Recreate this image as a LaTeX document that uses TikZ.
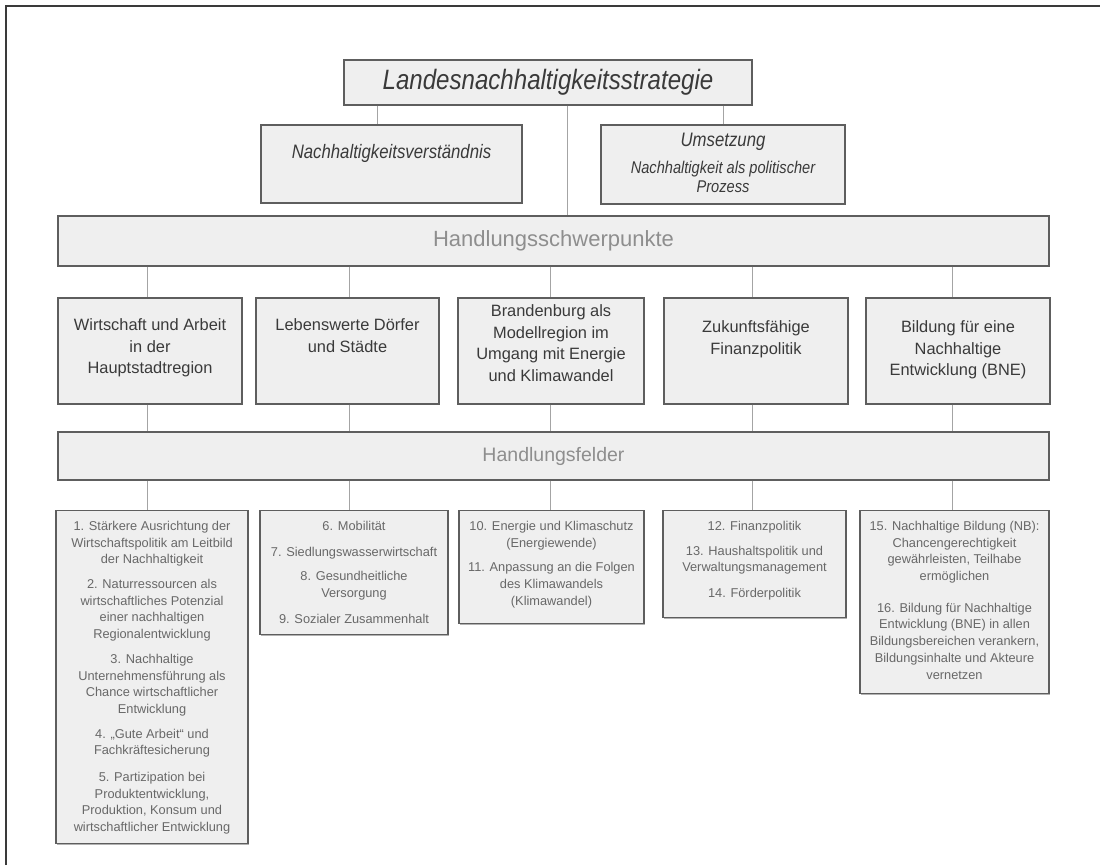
\documentclass[tikz,border=0pt]{standalone}
\usepackage{fontspec}
\setmainfont{Liberation Sans}
\newfontfamily\narrowfont{Liberation Sans}[FakeStretch=0.86]
\usepackage{tikz}
\usetikzlibrary{positioning,shadows}

\definecolor{boxfill}{HTML}{EFEFEF}
\definecolor{boxline}{HTML}{5E5E5E}
\definecolor{linkgray}{HTML}{A4A4A4}
\definecolor{bartext}{HTML}{8E8E8E}
\definecolor{headgray}{HTML}{3A3A3A}
\definecolor{fieldgray}{HTML}{686868}

\begin{document}
\begin{tikzpicture}[x=1pt, y=-1pt,
    box/.style = {draw=boxline, fill=boxfill, line width=1.1pt, inner sep=0pt,
      drop shadow={shadow xshift=1.4pt, shadow yshift=-1.4pt, fill=black!60, opacity=0.5}},
    bar/.style = {box, minimum width=991pt, text=bartext},
    link/.style = {draw=linkgray, line width=0.8pt},
    toptext/.style = {inner sep=0pt, align=center, text=headgray, font=\narrowfont\itshape\fontsize{19.5}{22}\selectfont},
    headtext/.style = {inner sep=0pt, align=center, text=headgray, font=\fontsize{16.4}{21.5}\selectfont},
    fieldtext/.style = {inner sep=0pt, align=center, text=fieldgray, font=\fontsize{12.8}{16.7}\selectfont}]
  \useasboundingbox (0,0) rectangle (1100,865);
  \draw[headgray, line width=1.2pt] (6,865) -- (6,6) -- (1100,6);

  % strategy and its two parts
  \node[box, minimum width=408pt, minimum height=45pt, text=headgray,
        font=\narrowfont\itshape\fontsize{28}{30}\selectfont] (lns) at (548,82.5) {Landesnachhaltigkeitsstrategie};
  \node[box, minimum width=261pt, minimum height=78pt] (nv) at (391.5,164) {};
  \node[toptext, below=20pt of nv.north] (nvt) {Nachhaltigkeitsverständnis};
  \node[box, minimum width=244pt, minimum height=79pt] (um) at (723,164.5) {};
  \node[toptext, below=8pt of um.north, font=\narrowfont\itshape\fontsize{17}{19}\selectfont] (umt)
    {{\fontsize{19.5}{19}\selectfont Umsetzung}\\[8pt]Nachhaltigkeit als politischer\\Prozess};

  % Handlungsschwerpunkte
  \node[bar, minimum height=50pt, font=\fontsize{22}{24}\selectfont] (hsp) at (553.5,241) {Handlungsschwerpunkte};
  \node[box, minimum width=184pt, minimum height=106pt] (w1) at (150,351) {};
  \node[box, minimum width=183pt, minimum height=106pt] (w2) at (347.5,351) {};
  \node[box, minimum width=186pt, minimum height=106pt] (w3) at (551,351) {};
  \node[box, minimum width=184pt, minimum height=106pt] (w4) at (756,351) {};
  \node[box, minimum width=184pt, minimum height=106pt] (w5) at (958,351) {};
  \node[headtext, below=21pt of w1.north] (w1t) {Wirtschaft und Arbeit\\in der\\Hauptstadtregion};
  \node[headtext, below=21pt of w2.north] (w2t) {Lebenswerte Dörfer\\und Städte};
  \node[headtext, below=7pt of w3.north] (w3t) {Brandenburg als\\Modellregion im\\Umgang mit Energie\\und Klimawandel};
  \node[headtext, below=23pt of w4.north] (w4t) {Zukunftsfähige\\Finanzpolitik};
  \node[headtext, below=23pt of w5.north] (w5t) {Bildung für eine\\Nachhaltige\\Entwicklung (BNE)};

  % Handlungsfelder
  \node[bar, minimum height=48pt, font=\fontsize{19.5}{22}\selectfont] (hf) at (553.5,456) {Handlungsfelder};
  \node[box, minimum width=192pt, minimum height=333pt, anchor=north] (f1) at (152,510) {};
  \node[box, minimum width=188pt, minimum height=124pt, anchor=north] (f2) at (354,510) {};
  \node[box, minimum width=185pt, minimum height=113pt, anchor=north] (f3) at (551.5,510) {};
  \node[box, minimum width=183pt, minimum height=107pt, anchor=north] (f4) at (754.5,510) {};
  \node[box, minimum width=189pt, minimum height=183pt, anchor=north] (f5) at (954.5,510) {};
  \node[fieldtext, below=11pt of f1.north] (f1t) {1. Stärkere Ausrichtung der\\Wirtschaftspolitik am Leitbild\\der Nachhaltigkeit\\[8pt]
    2. Naturressourcen als\\wirtschaftliches Potenzial\\einer nachhaltigen\\Regionalentwicklung\\[8pt]
    3. Nachhaltige\\Unternehmensführung als\\Chance wirtschaftlicher\\Entwicklung\\[8pt]
    4. „Gute Arbeit“ und\\Fachkräftesicherung\\[10pt]
    5. Partizipation bei\\Produktentwicklung,\\Produktion, Konsum und\\wirtschaftlicher Entwicklung};
  \node[fieldtext, below=11pt of f2.north] (f2t) {6. Mobilität\\[9pt]7. Siedlungswasserwirtschaft\\[8pt]
    8. Gesundheitliche\\Versorgung\\[9pt]9. Sozialer Zusammenhalt};
  \node[fieldtext, below=11pt of f3.north] (f3t) {10. Energie und Klimaschutz\\(Energiewende)\\[8pt]
    11. Anpassung an die Folgen\\des Klimawandels\\(Klimawandel)};
  \node[fieldtext, below=11pt of f4.north] (f4t) {12. Finanzpolitik\\[8pt]13. Haushaltspolitik und\\Verwaltungsmanagement\\[9pt]14. Förderpolitik};
  \node[fieldtext, below=11pt of f5.north] (f5t) {15. Nachhaltige Bildung (NB):\\Chancengerechtigkeit\\gewährleisten, Teilhabe\\ermöglichen\\[15pt]
    16. Bildung für Nachhaltige\\Entwicklung (BNE) in allen\\Bildungsbereichen verankern,\\Bildungsinhalte und Akteure\\vernetzen};

  % connectors
  \coordinate (nvx) at (377,0);
  \coordinate (midx) at (567,0);
  \draw[link] (lns.south -| nvx) -- (nv.north -| nvx);
  \draw[link] (lns.south -| um) -- (um.north);
  \draw[link] (lns.south -| midx) -- (hsp.north -| midx);
  \coordinate (x1) at (147,0);
  \coordinate (x2) at (349,0);
  \coordinate (x3) at (550,0);
  \coordinate (x4) at (752,0);
  \coordinate (x5) at (952,0);
  \draw[link] (hsp.south -| x1) -- (w1.north -| x1) (w1.south -| x1) -- (hf.north -| x1) (hf.south -| x1) -- (f1.north -| x1);
  \draw[link] (hsp.south -| x2) -- (w2.north -| x2) (w2.south -| x2) -- (hf.north -| x2) (hf.south -| x2) -- (f2.north -| x2);
  \draw[link] (hsp.south -| x3) -- (w3.north -| x3) (w3.south -| x3) -- (hf.north -| x3) (hf.south -| x3) -- (f3.north -| x3);
  \draw[link] (hsp.south -| x4) -- (w4.north -| x4) (w4.south -| x4) -- (hf.north -| x4) (hf.south -| x4) -- (f4.north -| x4);
  \draw[link] (hsp.south -| x5) -- (w5.north -| x5) (w5.south -| x5) -- (hf.north -| x5) (hf.south -| x5) -- (f5.north -| x5);
\end{tikzpicture}
\end{document}
